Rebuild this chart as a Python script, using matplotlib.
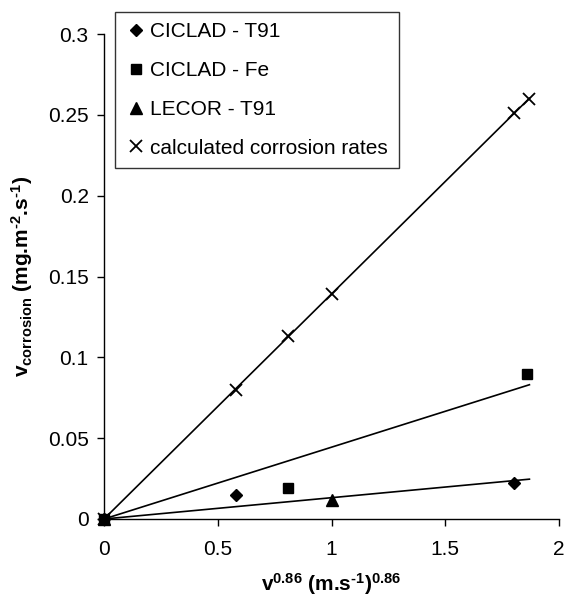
import matplotlib
matplotlib.use("Agg")
import matplotlib.pyplot as plt
import numpy as np

plt.rcParams['font.family'] = ['Liberation Sans', 'DejaVu Sans']
plt.rcParams['mathtext.fontset'] = 'custom'
plt.rcParams['mathtext.rm'] = 'Liberation Sans:bold'
plt.rcParams['mathtext.bf'] = 'Liberation Sans:bold'
plt.rcParams['mathtext.it'] = 'Liberation Sans:bold'
plt.rcParams['mathtext.default'] = 'bf'

# Data
ciclad_t91_x = [0.0, 0.58, 1.80]
ciclad_t91_y = [0.0, 0.015, 0.022]
ciclad_fe_x = [0.0, 0.81, 1.86]
ciclad_fe_y = [0.0, 0.019, 0.090]
lecor_t91_x = [0.0, 1.00]
lecor_t91_y = [0.0, 0.012]
calc_x = [0.0, 0.58, 0.81, 1.00, 1.80, 1.87]
calc_y = [0.0, 0.080, 0.113, 0.139, 0.251, 0.260]

labels = ["CICLAD - T91", "CICLAD - Fe", "LECOR - T91", "calculated corrosion rates"]
xticks = [0, 0.5, 1, 1.5, 2]
xticklabels = ["0", "0.5", "1", "1.5", "2"]
yticks = [0, 0.05, 0.1, 0.15, 0.2, 0.25, 0.3]
yticklabels = ["0", "0.05", "0.1", "0.15", "0.2", "0.25", "0.3"]


def slope_origin(xs, ys):
    xs = np.asarray(xs); ys = np.asarray(ys)
    return float((xs * ys).sum() / (xs * xs).sum())


FS = 15

fig = plt.figure(figsize=(5.67, 5.99), dpi=100)
ax = fig.add_axes([104/567, 1-519/599, (559-104)/567, (519-34)/599])

xmax = max(calc_x)
xl = np.array([0.0, xmax])
# trend lines through origin
s_calc = slope_origin(calc_x, calc_y)
s_fe = slope_origin(ciclad_fe_x, ciclad_fe_y)
s_t91 = slope_origin(ciclad_t91_x + lecor_t91_x, ciclad_t91_y + lecor_t91_y)
for s in (s_calc, s_fe, s_t91):
    ax.plot(xl, s * xl, color='black', lw=1.2, zorder=2)

ax.plot(ciclad_t91_x, ciclad_t91_y, ls='none', marker='D', ms=6.5, color='black',
        label=labels[0], clip_on=False, zorder=3)
ax.plot(ciclad_fe_x, ciclad_fe_y, ls='none', marker='s', ms=6.5, color='black',
        label=labels[1], clip_on=False, zorder=3)
ax.plot(lecor_t91_x, lecor_t91_y, ls='none', marker='^', ms=8, color='black',
        label=labels[2], clip_on=False, zorder=3)
ax.plot(calc_x, calc_y, ls='none', marker='x', ms=8.5, mew=1.3, color='black',
        label=labels[3], clip_on=False, zorder=3)

ax.set_xlim(0, 2)
ax.set_ylim(0, 0.3)
ax.set_xticks(xticks)
ax.set_xticklabels(xticklabels)
ax.set_yticks(yticks)
ax.set_yticklabels(yticklabels)
ax.spines['top'].set_visible(False)
ax.spines['right'].set_visible(False)
for sp in ('left', 'bottom'):
    ax.spines[sp].set_linewidth(1.0)
ax.tick_params(direction='out', length=5, width=1.0, labelsize=FS, pad=6)
ax.tick_params(axis='x', pad=10)

ax.set_xlabel(r"v$^{0.86}$ (m.s$^{\text{-}1}$)$^{0.86}$", fontsize=FS, fontweight='bold', labelpad=9)
ax.set_ylabel(r"v$_{corrosion}$ (mg.m$^{\text{-}2}$.s$^{\text{-}1}$)", fontsize=FS, fontweight='bold', labelpad=9)

leg = ax.legend(loc='upper left', bbox_to_anchor=(115/567, 1-12/599), bbox_transform=fig.transFigure,
                frameon=True, fancybox=False, fontsize=FS, handlelength=1.0, handletextpad=0.2,
                labelspacing=0.95, borderpad=0.5, borderaxespad=0, edgecolor='black')
leg.get_frame().set_linewidth(1.0)

fig.savefig("out.png", dpi=100)
